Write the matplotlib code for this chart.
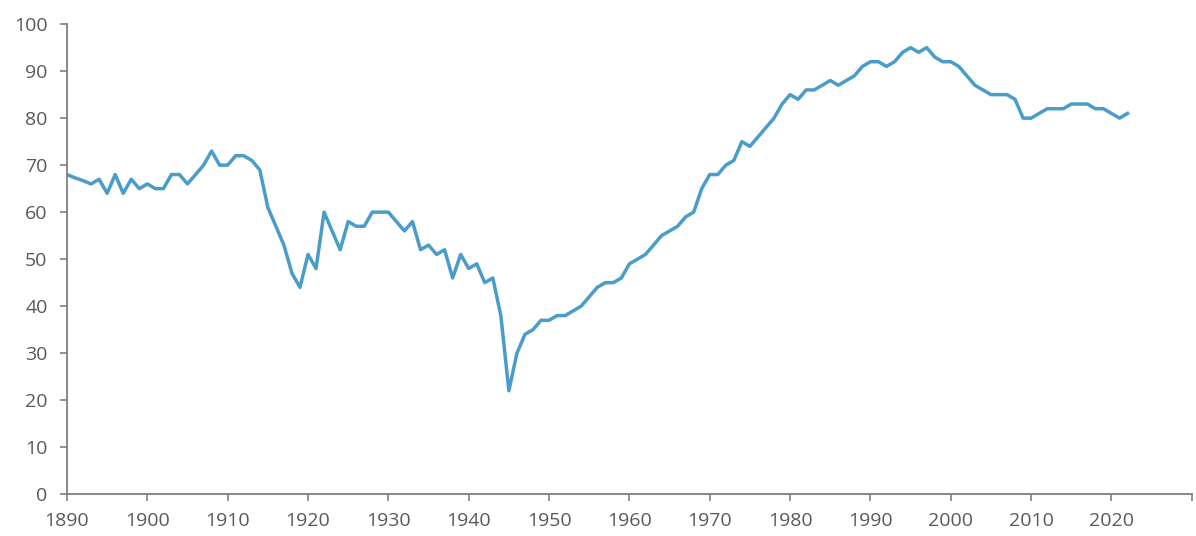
import numpy as np
import matplotlib
matplotlib.use("Agg")
import matplotlib.pyplot as plt

# Years 1890..2022, one value per year
YEARS = list(range(1890, 2023))
VALUES = [
    68, 67.3, 66.7, 66, 67, 64, 68, 64, 67, 65,      # 1890-1899
    66, 65, 65, 68, 68, 66, 68, 70, 73, 70,          # 1900-1909
    70, 72, 72, 71, 69, 61, 57, 53, 47, 44,          # 1910-1919
    51, 48, 60, 56, 52, 58, 57, 57, 60, 60,          # 1920-1929
    60, 58, 56, 58, 52, 53, 51, 52, 46, 51,          # 1930-1939
    48, 49, 45, 46, 38, 22, 30, 34, 35, 37,          # 1940-1949
    37, 38, 38, 39, 40, 42, 44, 45, 45, 46,          # 1950-1959
    49, 50, 51, 53, 55, 56, 57, 59, 60, 65,          # 1960-1969
    68, 68, 70, 71, 75, 74, 76, 78, 80, 83,          # 1970-1979
    85, 84, 86, 86, 87, 88, 87, 88, 89, 91,          # 1980-1989
    92, 92, 91, 92, 94, 95, 94, 95, 93, 92,          # 1990-1999
    92, 91, 89, 87, 86, 85, 85, 85, 84, 80,          # 2000-2009
    80, 81, 82, 82, 82, 83, 83, 83, 82, 82,          # 2010-2019
    81, 80, 81,                                      # 2020-2022
]
X_TICKS = list(range(1890, 2031, 10))
X_TICK_LABELS = [str(y) if y <= 2020 else "" for y in X_TICKS]
Y_TICKS = list(range(0, 101, 10))

LINE_COLOR = "#4a9cc9"
AXIS_COLOR = "#808080"
TEXT_COLOR = "#595959"


def main():
    plt.rcParams["font.family"] = ["Open Sans", "DejaVu Sans"]

    fig = plt.figure(figsize=(11.96, 5.36), dpi=100)
    ax = fig.add_axes([0.056, 0.078, 0.9405, 0.877])

    ax.plot(YEARS, VALUES, color=LINE_COLOR, linewidth=2.5, solid_joinstyle="round")

    ax.set_xlim(1890, 2030)
    ax.set_ylim(0, 100)
    ax.set_xticks(X_TICKS)
    ax.set_xticklabels(X_TICK_LABELS)
    ax.set_yticks(Y_TICKS)

    for side in ("top", "right"):
        ax.spines[side].set_visible(False)
    for side in ("left", "bottom"):
        ax.spines[side].set_color(AXIS_COLOR)
        ax.spines[side].set_linewidth(1.3)

    ax.tick_params(axis="both", colors=AXIS_COLOR, length=5, width=1.2,
                   labelsize=14, labelcolor=TEXT_COLOR)
    ax.tick_params(axis="x", pad=8)
    ax.tick_params(axis="y", pad=9)

    fig.savefig("out.png", dpi=100)


if __name__ == "__main__":
    main()
